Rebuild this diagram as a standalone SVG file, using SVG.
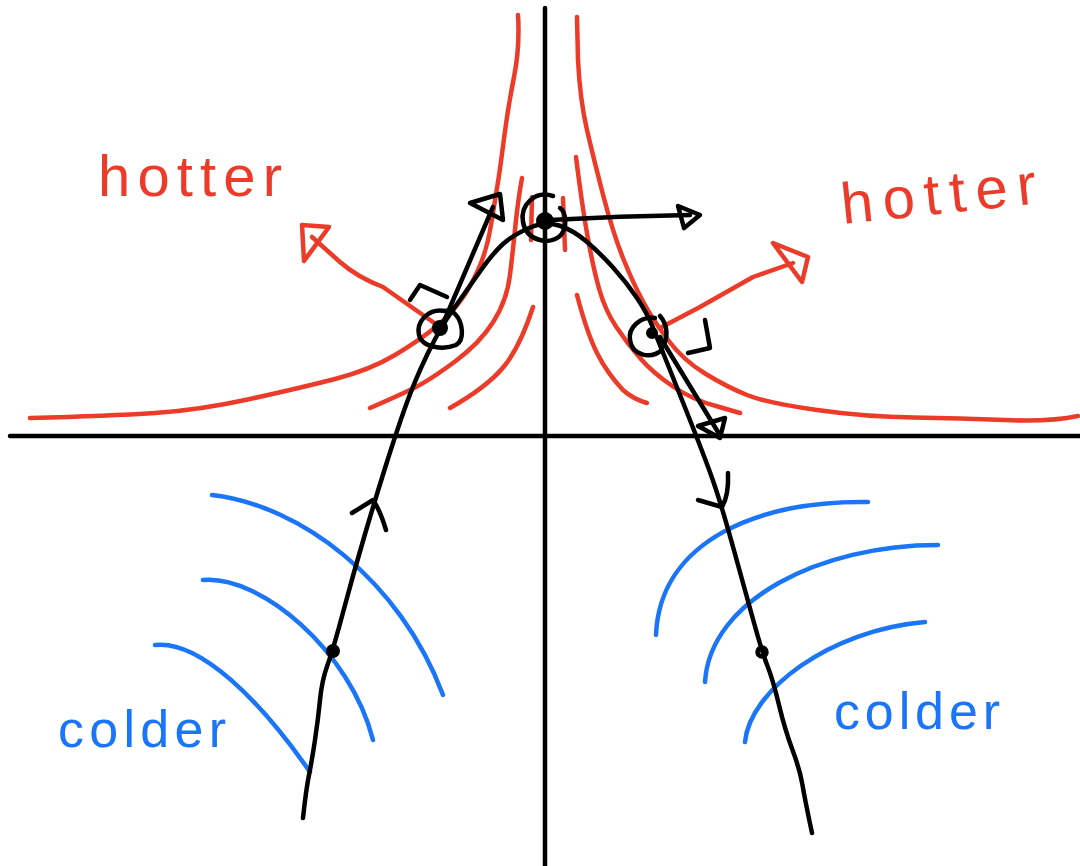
<svg xmlns="http://www.w3.org/2000/svg" width="1080" height="866" viewBox="0 0 1080 866">
<style>
.k{fill:none;stroke:#000;stroke-width:4.5;stroke-linecap:round;stroke-linejoin:round}
.r{fill:none;stroke:#ec3b28;stroke-width:4.5;stroke-linecap:round;stroke-linejoin:round}
.b{fill:none;stroke:#1a75f8;stroke-width:4.5;stroke-linecap:round;stroke-linejoin:round}
.dot{fill:#000;stroke:#000;stroke-width:2}
.hot{font-family:"Liberation Sans",Arial,sans-serif;font-size:58px;fill:#ec3b28}
.cold{font-family:"Liberation Sans",Arial,sans-serif;font-size:52px;fill:#1a75f8}
</style>
<rect width="1080" height="866" fill="#fff"/>
<g id="axes">
<path class="k" d="M10,436 L1080,436"/>
<path class="k" d="M545,8 L545,866"/>
</g>
<g id="hot-contours">
<path class="r" d="M30,418 Q110,416 155,413 Q200,410 250,399 Q300,388 335,379 Q370,370 395,355 Q420,340 435,327.5 Q450,315 460,301.5 Q470,288 478.5,269 Q487,250 491,225 Q495,200 497.5,185 Q500,170 504,138.5 Q508,107 514,77 Q520,47 518,15"/>
<path class="r" d="M370,408 Q400,395 415,387.5 Q430,380 455,361.5 Q480,343 493.5,321.5 Q507,300 510,275 Q513,250 515.5,225 Q518,200 522,178"/>
<path class="r" d="M450,408 Q487,387 503.5,367 Q520,347 533,307"/>
<path class="r" d="M532,197 L531,240"/>
<path class="r" d="M563,198 L565,250"/>
<path class="r" d="M577,17 L578,60 Q580,100 587,130 Q594,160 603.5,196.5 Q613,233 623,258 Q633,283 643,301.5 Q653,320 668,340 Q683,360 705,373.5 Q727,387 747,395 Q767,403 817,410 Q867,417 913.5,417.5 Q960,418 1005,420 Q1050,422 1078,416"/>
<path class="r" d="M576,157 Q582,205 587.5,236 Q593,267 599,288.5 Q605,310 616,326.5 Q627,343 640,358 Q653,373 673,386.5 Q693,400 716,406 L740,413"/>
<path class="r" d="M577,295 Q587,333 597,353 Q607,373 623,390 Q633,399 647,403"/>
</g>
<g id="cold-contours">
<path class="b" d="M212,495 C300,505 400,580 443,695"/>
<path class="b" d="M203,580 C260,575 350,650 373,740"/>
<path class="b" d="M155,645 C200,640 260,700 310,772"/>
<path class="b" d="M656,635 C660,540 760,500 868,502"/>
<path class="b" d="M705,682 C710,600 820,545 938,545"/>
<path class="b" d="M745,742 C750,690 830,630 925,622"/>
</g>
<g id="connectors">
<path class="k" d="M303,818 Q306,790 309,775 Q312,760 315,740 Q318,720 320,700 Q322,680 327.5,665 Q333,650 343,612.5 Q353,575 364,537.5 Q375,500 386,465 Q397,430 406,405 Q415,380 427.5,354 Q440,328 453.5,309 Q467,290 480,271.5 Q493,253 503,244 Q513,235 529,228 Q545,221 559,225.5 Q573,230 586.5,241.5 Q600,253 613.5,268 Q627,283 637,298 Q647,313 652.5,326.5 Q658,340 680,395 Q702,450 711,475 Q720,500 732.5,545 Q745,590 753.5,621 Q762,652 767.5,666 Q773,680 779,705 Q785,730 792.5,750 Q800,770 802.5,785 Q805,800 812,833"/>
<path class="k" d="M352,513 L373,500 Q380,510 386,530"/>
<path class="k" d="M698,500 L722,507 Q729,495 728,473"/>
<path class="k" d="M442,326 L493,207"/>
<path class="k" d="M470,203 L500,194 L503,220 Z"/>
<path class="k" d="M550,220 Q620,216 690,215"/>
<path class="k" d="M678,206 L700,215 L684,228 Z"/>
<path class="k" d="M660,337 L718,432"/>
<path class="k" d="M698,426 L725,418 L720,438 Z"/>
<path class="k" d="M410,300 L420,285 L447,297"/>
<path class="k" d="M705,320 L710,348 L688,353"/>
<path class="r" d="M440,327 L383,287 Q357,277 340,262 L312,237"/>
<path class="r" d="M302,225 L329,227 L304,261 Z"/>
<path class="r" d="M660,328 L700,307 Q730,290 753,277 L793,263"/>
<path class="r" d="M773,243 L808,257 L802,282 Z"/>
</g>
<g id="node-top">
<path class="k" d="M553,196 C535,190 520,205 523,222 C526,240 548,246 560,236 C568,228 566,212 560,208"/>
<circle class="dot" cx="545" cy="221" r="8"/>
</g>
<g id="node-left">
<path class="k" d="M445,311 C428,308 416,322 419,335 C422,348 444,350 456,345 C465,340 463,322 455,314 C452,311 448,310 445,311"/>
<circle class="dot" cx="440" cy="328" r="7"/>
</g>
<g id="node-right">
<path class="k" d="M655,318 C640,316 628,328 630,340 C632,355 650,360 662,350"/>
<path class="k" d="M660,316 C668,325 668,338 663,346"/>
<circle class="dot" cx="652" cy="333" r="5"/>
</g>
<g id="node-lower-left">
<circle class="dot" cx="333" cy="651" r="6"/>
</g>
<g id="node-lower-right">
<circle class="k" cx="762" cy="652" r="4.5"/>
</g>
<g id="labels">
<text class="hot" x="98" y="196" textLength="184" lengthAdjust="spacing">hotter</text>
<text class="hot" x="843" y="224" textLength="196" lengthAdjust="spacing" transform="rotate(-6 843 224)">hotter</text>
<text class="cold" x="58" y="747" textLength="168" lengthAdjust="spacing">colder</text>
<text class="cold" x="834" y="729" textLength="166" lengthAdjust="spacing">colder</text>
</g>
</svg>
